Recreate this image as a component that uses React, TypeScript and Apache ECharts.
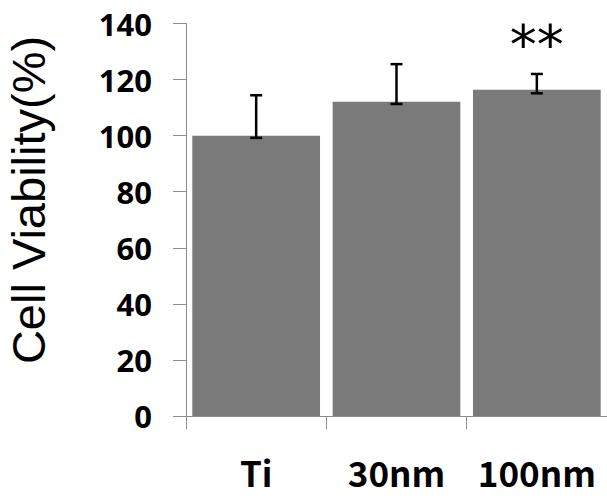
import React, { useEffect, useRef } from "react";
import * as echarts from "echarts";

const categories = ["Ti", "30nm", "100nm"];
const viability = [100, 112.1, 116.4];
const errLow = [99.2, 111.3, 115.1];
const errHigh = [114.4, 125.5, 122.0];
const yTicks = { min: 0, max: 140, interval: 20 };
const yTitle = "Cell Viability(%)";
const significance = ["", "", "**"];

export default function App() {
  const ref = useRef<HTMLDivElement>(null);
  useEffect(() => {
    const chart = echarts.init(ref.current!, null, { renderer: "svg" });
    const errData = categories.map((_, i) => [i, errLow[i], errHigh[i]]);
    chart.setOption({
      animation: false,
      grid: { left: 186, right: 0, top: 23.5, bottom: 80 },
      xAxis: {
        type: "category",
        data: categories,
        axisLine: { lineStyle: { color: "#8c8c8c", width: 1 } },
        axisTick: { show: true, length: 13, lineStyle: { color: "#8c8c8c" } },
        axisLabel: {
          interval: 0,
          hideOverlap: false,
          margin: 38,
          lineHeight: 34,
          color: "#000",
          fontWeight: "bold",
          fontSize: 35,
          fontFamily: "'Noto Sans CJK KR', sans-serif",
        },
      },
      yAxis: {
        type: "value",
        min: yTicks.min,
        max: yTicks.max,
        interval: yTicks.interval,
        splitLine: { show: false },
        axisLine: { show: true, lineStyle: { color: "#8c8c8c", width: 1 } },
        axisTick: { show: true, length: 13, lineStyle: { color: "#8c8c8c" } },
        axisLabel: {
          margin: 34,
          color: "#000",
          fontWeight: "bold",
          fontSize: 31,
          fontFamily: "'Noto Sans', sans-serif",
        },
      },
      graphic: [
        {
          type: "text",
          x: 28,
          y: 200,
          rotation: Math.PI / 2,
          style: {
            text: yTitle,
            fontSize: 47,
            fontFamily: "'Liberation Sans', Arial, sans-serif",
            fill: "#000",
            textAlign: "center",
            textVerticalAlign: "middle",
          },
        },
      ],
      series: [
        {
          type: "bar",
          data: viability,
          barCategoryGap: "9%",
          itemStyle: { color: "#7a7a7a" },
          label: {
            show: true,
            position: "top",
            distance: 18,
            formatter: (p: any) => significance[p.dataIndex],
            fontSize: 54,
            fontFamily: "'DejaVu Sans', sans-serif",
            color: "#000",
          },
        },
        {
          type: "custom",
          data: errData,
          encode: { x: 0, y: [1, 2] },
          z: 10,
          renderItem: (params: any, api: any) => {
            const i = api.value(0);
            const lo = api.coord([i, api.value(1)]);
            const hi = api.coord([i, api.value(2)]);
            const cap = 6;
            const style = { stroke: "#000", lineWidth: 2.5 };
            return {
              type: "group",
              children: [
                { type: "line", shape: { x1: lo[0], y1: lo[1], x2: hi[0], y2: hi[1] }, style },
                { type: "line", shape: { x1: lo[0] - cap, y1: lo[1], x2: lo[0] + cap, y2: lo[1] }, style },
                { type: "line", shape: { x1: hi[0] - cap, y1: hi[1], x2: hi[0] + cap, y2: hi[1] }, style },
              ],
            };
          },
        },
      ],
    });
    return () => chart.dispose();
  }, []);
  return <div ref={ref} style={{ width: 607, height: 496, position: "absolute", left: 0, top: 0 }} />;
}
